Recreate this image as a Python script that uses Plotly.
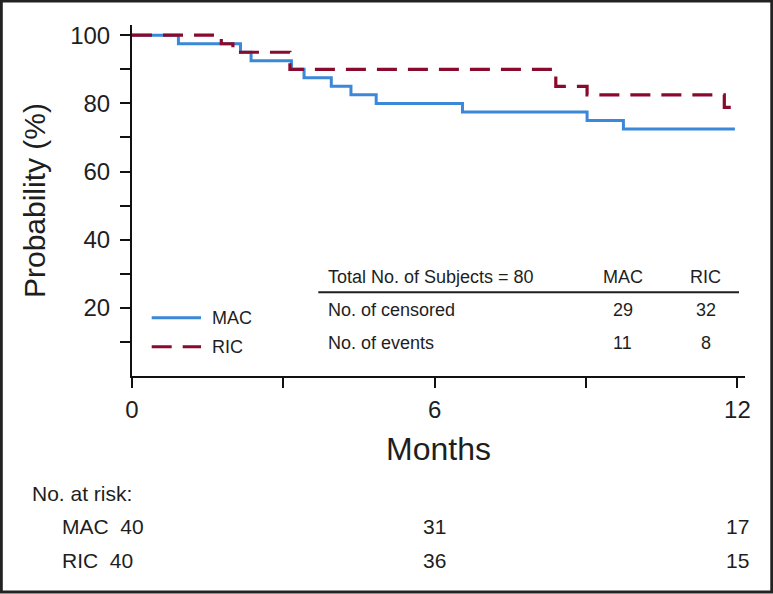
import plotly.graph_objects as go

# ---------------- data ----------------
mac_months = [0, 0.92, 2.15, 2.36, 3.16, 3.41, 3.95, 4.34, 4.84, 6.55, 9.02, 9.74, 11.95]
mac_prob = [100, 97.5, 95, 92.5, 90, 87.5, 85, 82.5, 80, 77.5, 75, 72.5, 72.5]

ric_months = [0, 1.77, 2.0, 3.13, 8.40, 9.02, 11.74, 11.95]
ric_prob = [100, 97.5, 95, 90, 85, 82.5, 78.8, 78.8]

x_tickvals = [0, 3, 6, 9, 12]
x_ticktext = ["0", "", "6", "", "12"]
y_tickvals = [10, 20, 30, 40, 50, 60, 70, 80, 90, 100]
y_ticktext = ["", "20", "", "40", "", "60", "", "80", "", "100"]

groups = ["MAC", "RIC"]
risk_times = [0, 6, 12]
risk_mac = [40, 31, 17]
risk_ric = [40, 36, 15]

summary_title = "Total No. of Subjects = 80"
summary_rows = ["No. of censored", "No. of events"]
censored = [29, 32]
events = [11, 8]

# ---------------- styling ----------------
W, H = 773, 594
ML, MR, MT, MB = 132, 28, 25, 218
PW, PH = W - ML - MR, H - MT - MB
FONT = "Liberation Sans, Arial, Helvetica, sans-serif"
TXT = "#1e1e1e"
BLUE = "#3B88D8"
RED = "#8A0A2D"


def px_x(p):
    return (p - ML) / PW


def px_y(p):
    return (H - MB - p) / PH


fig = go.Figure()
fig.add_trace(go.Scatter(x=mac_months, y=mac_prob, mode="lines", name="MAC",
                         line=dict(color=BLUE, width=3, shape="hv"), showlegend=False))
fig.add_trace(go.Scatter(x=ric_months, y=ric_prob, mode="lines", name="RIC",
                         line=dict(color=RED, width=3.2, shape="hv", dash="20px,11px"),
                         showlegend=False))

ann = []
shapes = []

# legend (manual)
for i, (g, col, dash) in enumerate([("MAC", BLUE, "solid"), ("RIC", RED, "20px,11px")]):
    yy = [317.7, 346.7][i]
    shapes.append(dict(type="line", xref="paper", yref="paper",
                       x0=px_x(151.7), x1=px_x(201), y0=px_y(yy), y1=px_y(yy),
                       line=dict(color=col, width=3, dash=dash)))
    ann.append(dict(text=g, xref="paper", yref="paper", x=px_x(209.7), y=px_y(yy),
                    xanchor="left", yanchor="middle", showarrow=False,
                    font=dict(size=18, color=TXT, family=FONT)))

# summary table
ann.append(dict(text=summary_title, xref="paper", yref="paper", x=px_x(325.7), y=px_y(277.3),
                xanchor="left", yanchor="middle", showarrow=False,
                font=dict(size=18, color=TXT, family=FONT)))
col_x = [622.7, 705.7]
for g, cx in zip(groups, col_x):
    ann.append(dict(text=g, xref="paper", yref="paper", x=px_x(cx), y=px_y(277.3),
                    xanchor="center", yanchor="middle", showarrow=False,
                    font=dict(size=18, color=TXT, family=FONT)))
shapes.append(dict(type="line", xref="paper", yref="paper",
                   x0=px_x(318.3), x1=px_x(739), y0=px_y(292.3), y1=px_y(292.3),
                   line=dict(color=TXT, width=2)))
row_y = [310, 342.7]
for lab, ry, vals in zip(summary_rows, row_y, [censored, events]):
    ann.append(dict(text=lab, xref="paper", yref="paper", x=px_x(325.7), y=px_y(ry),
                    xanchor="left", yanchor="middle", showarrow=False,
                    font=dict(size=18, color=TXT, family=FONT)))
    for v, cx in zip(vals, col_x):
        ann.append(dict(text=str(v), xref="paper", yref="paper", x=px_x(cx), y=px_y(ry),
                        xanchor="center", yanchor="middle", showarrow=False,
                        font=dict(size=18, color=TXT, family=FONT)))

# number at risk
ann.append(dict(text="No. at risk:", xref="paper", yref="paper", x=px_x(29.7), y=px_y(493),
                xanchor="left", yanchor="middle", showarrow=False,
                font=dict(size=21, color=TXT, family=FONT)))
for g, ry, vals in zip(groups, [526.7, 560], [risk_mac, risk_ric]):
    ann.append(dict(text=f"{g}\u00a0 {vals[0]}", xref="paper", yref="paper",
                    x=px_x(59.5), y=px_y(ry), xanchor="left", yanchor="middle",
                    showarrow=False, font=dict(size=21, color=TXT, family=FONT)))
    for t, v in zip(risk_times[1:], vals[1:]):
        ann.append(dict(text=str(v), xref="x", yref="paper", x=t, y=px_y(ry),
                        xanchor="center", yanchor="middle", showarrow=False,
                        font=dict(size=21, color=TXT, family=FONT)))

# outer frame
shapes.append(dict(type="rect", xref="paper", yref="paper",
                   x0=px_x(1.3), x1=px_x(771.8), y0=px_y(592), y1=px_y(1),
                   line=dict(color="#222222", width=3), fillcolor="rgba(0,0,0,0)"))

fig.update_layout(
    width=W, height=H,
    margin=dict(l=ML, r=MR, t=MT, b=MB, pad=0),
    paper_bgcolor="white", plot_bgcolor="white",
    font=dict(family=FONT, color=TXT),
    annotations=ann, shapes=shapes,
    xaxis=dict(range=[0, 12.15], tickvals=x_tickvals, ticktext=x_ticktext,
               showgrid=False, zeroline=False, showline=True, linecolor="#111", linewidth=2,
               ticks="outside", ticklen=10, tickwidth=2, tickcolor="#111",
               ticklabelstandoff=1,
               tickfont=dict(size=24, color=TXT, family=FONT),
               title=dict(text="Months", font=dict(size=32, color=TXT, family=FONT), standoff=16)),
    yaxis=dict(range=[0, 103], tickvals=y_tickvals, ticktext=y_ticktext,
               showgrid=False, zeroline=False, showline=True, linecolor="#111", linewidth=2,
               ticks="outside", ticklen=10, tickwidth=2, tickcolor="#111",
               ticklabelstandoff=5,
               tickfont=dict(size=24, color=TXT, family=FONT),
               title=dict(text="Probability (%)", font=dict(size=30, color=TXT, family=FONT), standoff=16)),
)

fig.write_html("out.html", config={"displayModeBar": False},
               post_script="document.body.style.margin='0';document.body.style.padding='0';")
